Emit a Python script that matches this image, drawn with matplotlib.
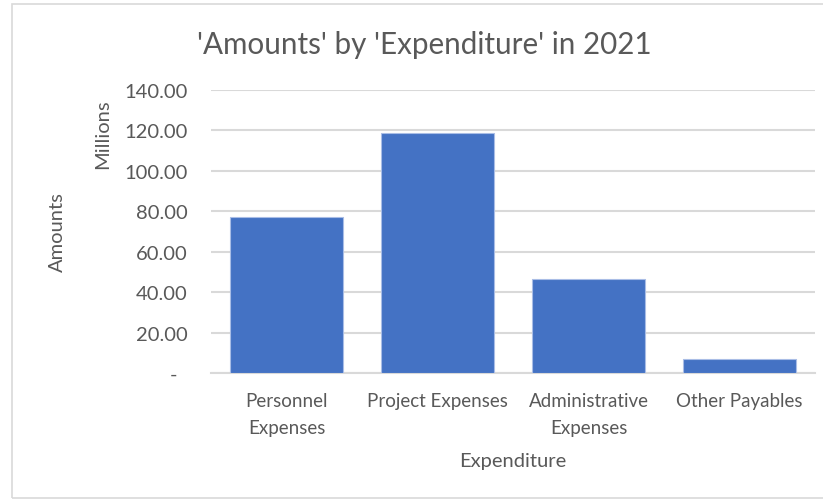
import matplotlib.pyplot as plt
from matplotlib.patches import Rectangle
from matplotlib.ticker import FuncFormatter

categories = ["Personnel\nExpenses", "Project Expenses", "Administrative\nExpenses", "Other Payables"]
amounts = [77.0e6, 118.7e6, 46.3e6, 6.8e6]
y_ticks = [0, 20e6, 40e6, 60e6, 80e6, 100e6, 120e6, 140e6]

text_grey = "#595959"
grid_grey = "#d9d9d9"
bar_blue = "#4472c4"

plt.rcParams['font.family'] = ['Lato', 'DejaVu Sans']

fig = plt.figure(figsize=(8.23, 5.02), dpi=100)
fig.patches.append(Rectangle((12 / 823, 3 / 502), 1.2, 494 / 502, transform=fig.transFigure,
                             fill=False, edgecolor="#d9d9d9", linewidth=1.2))

ax = fig.add_axes([211 / 823, 128 / 502, 604 / 823, 283 / 502])
x = range(len(categories))
ax.bar(x, amounts, width=0.75, color=bar_blue, edgecolor="#a9bde6", linewidth=0.8, zorder=3)

ax.set_xlim(-0.5, len(categories) - 0.5)
ax.set_ylim(0, 140e6)
ax.set_yticks(y_ticks)


def millions(v, pos):
    if v == 0:
        return "-  "
    return f"{v / 1e6:.2f}"


ax.yaxis.set_major_formatter(FuncFormatter(millions))
ax.grid(axis="y", color=grid_grey, linewidth=1.5, zorder=0)
for s in ["top", "right", "left"]:
    ax.spines[s].set_visible(False)
ax.spines["bottom"].set_color(grid_grey)
ax.spines["bottom"].set_linewidth(1.5)
ax.tick_params(axis="y", length=0, pad=17, labelsize=14.5, labelcolor=text_grey)
ax.tick_params(axis="x", length=0, pad=14, labelsize=13.5, labelcolor=text_grey)
ax.set_xticks(list(x))
ax.set_xticklabels(categories, linespacing=1.65)

ax.set_xlabel("Expenditure", fontsize=14.5, color=text_grey, labelpad=12)
fig.text(57 / 823, 1 - 232 / 502, "Amounts", rotation=90, fontsize=14.5, color=text_grey,
         ha="center", va="center")
fig.text(103 / 823, 1 - 134 / 502, "Millions", rotation=90, fontsize=14.5, color=text_grey,
         ha="center", va="center")
fig.text(424 / 823, 1 - 45 / 502, "'Amounts' by 'Expenditure' in 2021", fontsize=21.3,
         color=text_grey, ha="center", va="center")

fig.savefig("out.png", dpi=100)
